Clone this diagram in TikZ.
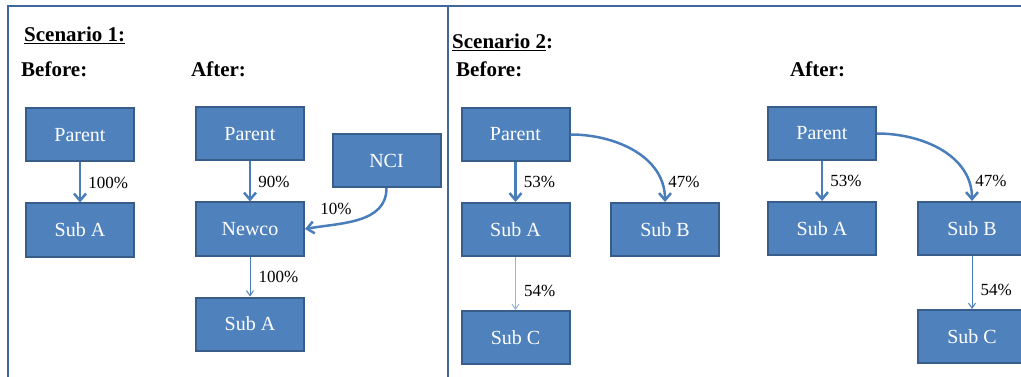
\documentclass[tikz,border=0pt]{standalone}
\usepackage{fontspec}
\setmainfont{Liberation Serif}
\usetikzlibrary{arrows.meta, positioning}

\begin{document}
\begin{tikzpicture}[x=1pt, y=1pt, node distance=95pt,
        every edge/.style={draw=linkblue, -{Straight Barb[length=7pt,width=12pt]}},
        thinlink/.style={-{Straight Barb[length=5pt,width=7pt]}},
        entity/.style={draw=boxedge, line width=2pt, fill=boxblue, text=white,
            minimum width=108pt, minimum height=53pt, inner sep=0pt,
            font=\fontsize{20}{24}\selectfont},
        share/.style={font=\fontsize{17}{20}\selectfont, inner sep=1pt},
        heading/.style={font=\fontsize{21}{25}\selectfont\bfseries, anchor=base west, inner sep=0pt},]

        \newcommand\linkwidth{2.5pt}
        \definecolor{boxblue}{RGB}{79, 129, 189}
        \definecolor{boxedge}{RGB}{56, 93, 138}
        \definecolor{linkblue}{RGB}{74, 126, 187}
        \definecolor{paleblue}{RGB}{149, 179, 215}
        \definecolor{framecol}{RGB}{65, 104, 154}

        \useasboundingbox (0,0) rectangle (1021,-377);
        \draw [framecol, line width=2.5pt] (8,-377) -- (8,-6) -- (1021,-6);
        \draw [framecol, line width=2.5pt] (448,-6) -- (448,-377);

        % scenario 1
        \node[heading] (s1) at (24,-42) {\underline{Scenario 1:}};
        \node[heading] (bf1) at (21,-77) {Before:};
        \node[heading] (af1) at (191,-77) {After:};

        \node[entity] (p1) at (80,-135) {Parent};
        \node[entity] (sa1) [below of=p1] {Sub A};

        \node[entity] (p1b) at (250,-134) {Parent};
        \node[entity] (newco) [below of=p1b] {Newco};
        \node[entity] (sa1b) [below of=newco] {Sub A};
        \node[entity] (nci) at (386.5,-160.5) {NCI};

        \path[line width=\linkwidth] (p1) edge [] node[share, right=6pt] {100\%} (sa1);
        \path[line width=\linkwidth] (p1b) edge [] node[share, right=6pt] {90\%} (newco);
        \path[line width=\linkwidth] (nci) edge [out=-90, in=10]
            node[share, pos=1, anchor=south west, xshift=13pt, yshift=12pt] {10\%} (newco.east);
        \path[line width=1pt] (newco) edge [thinlink] node[share, right=7pt] {100\%} (sa1b);

        % scenario 2
        \node[heading] (s2) at (452,-49) {\underline{Scenario 2}:};
        \node[heading] (bf2) at (456,-77) {Before:};
        \node[heading] (af2) at (790,-77) {After:};

        \node[entity] (p2) at (515.5,-134.5) {Parent};
        \node[entity] (sa2) [below of=p2] {Sub A};
        \node[entity] (sb2) [node distance=149.5pt, right of=sa2] {Sub B};
        \node[entity] (sc2) [node distance=108pt, below of=sa2] {Sub C};

        \node[entity] (p2b) at (822,-133.5) {Parent};
        \node[entity] (sa2b) [below of=p2b] {Sub A};
        \node[entity] (sb2b) [node distance=150pt, right of=sa2b] {Sub B};
        \node[entity] (sc2b) [node distance=108pt, below of=sb2b] {Sub C};

        \path[line width=\linkwidth] (p2) edge [] node[share, right=6pt] {53\%} (sa2);
        \path[line width=\linkwidth] (p2.east) edge [out=0, in=90]
            node[share, pos=1, anchor=south west, xshift=1pt, yshift=12pt] {47\%} (sb2.north);
        \path[line width=1pt] (sa2) edge [thinlink, draw=paleblue] node[share, pos=0.65, right=7pt] {54\%} (sc2);

        \path[line width=\linkwidth] (p2b) edge [] node[share, right=6pt] {53\%} (sa2b);
        \path[line width=\linkwidth] (p2b.east) edge [out=0, in=90]
            node[share, pos=1, anchor=south west, xshift=1pt, yshift=12pt] {47\%} (sb2b.north);
        \path[line width=1pt] (sb2b) edge [thinlink] node[share, pos=0.65, right=7pt] {54\%} (sc2b);

    \end{tikzpicture}
\end{document}
